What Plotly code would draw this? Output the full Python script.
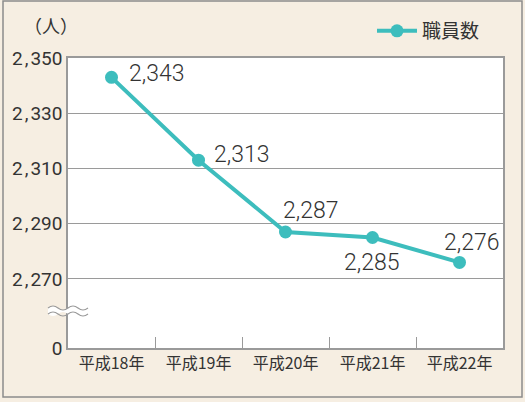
import plotly.graph_objects as go

categories = ["平成18年", "平成19年", "平成20年", "平成21年", "平成22年"]
staff = [2343, 2313, 2287, 2285, 2276]
label_dx = [15, 13, -5, -31, -18]
label_dy = [4, 6, 22, -25, 20]
tick_vals = [2245, 2270, 2290, 2310, 2330, 2350]
tick_text = ["0", "2\u200a,\u200a270", "2\u200a,\u200a290", "2\u200a,\u200a310", "2\u200a,\u200a330", "2\u200a,\u200a350"]

FONT = "Noto Sans CJK JP"
NUMFONT = "Roboto"
TEAL = "#3dbdbd"
GRAY = "#9a9a9a"
BEIGE = "#f6eee2"

fig = go.Figure()
fig.add_trace(go.Scatter(
    x=categories, y=staff, mode="lines+markers",
    name="職員数",
    line=dict(color=TEAL, width=4),
    marker=dict(color=TEAL, size=13),
    cliponaxis=False,
))

annotations = []
for c, v, dx, dy in zip(categories, staff, label_dx, label_dy):
    annotations.append(dict(x=c, y=v, xref="x", yref="y", text=f"{v:,}", showarrow=False,
                            xanchor="left", yanchor="middle", xshift=dx, yshift=dy,
                            font=dict(size=23, family=NUMFONT, color="#333333", weight=300)))
annotations.append(dict(text="（人）", xref="paper", yref="paper",
                        x=(51 - 68) / 435, y=(348 - 25) / 290, xanchor="center", yanchor="middle",
                        showarrow=False, font=dict(size=18, family=FONT, color="#333333")))

shapes = []
yb = (348 - 311) / 290.0
h = 3 / 290.0
amp = 4 / 290.0
x0, x1 = (48 - 68) / 435, (88 - 68) / 435
q = (x1 - x0) / 4
band = (f"M {x0} {yb+h} Q {x0+q/2} {yb+h+amp} {x0+q} {yb+h} T {x0+2*q} {yb+h} T {x0+3*q} {yb+h} T {x1} {yb+h} "
        f"L {x1} {yb-h} Q {x1-q/2} {yb-h+amp} {x1-q} {yb-h} T {x1-2*q} {yb-h} T {x1-3*q} {yb-h} T {x0} {yb-h} Z")
shapes.append(dict(type="path", xref="paper", yref="paper", path=band,
                   fillcolor="white", line=dict(width=0), layer="above"))
for yy in (yb + h, yb - h):
    p = f"M {x0} {yy} Q {x0+q/2} {yy+amp} {x0+q} {yy} T {x0+2*q} {yy} T {x0+3*q} {yy} T {x1} {yy}"
    shapes.append(dict(type="path", xref="paper", yref="paper", path=p,
                       line=dict(color=GRAY, width=1.2), layer="above"))
# outer frame
shapes.append(dict(type="rect", xref="paper", yref="paper",
                   x0=(3 - 68) / 435, x1=(522 - 68) / 435,
                   y0=(348 - 397) / 290, y1=(348 - 1) / 290,
                   line=dict(color="#8c8c8c", width=1.5), layer="below"))

fig.update_layout(
    width=525, height=402,
    margin=dict(l=68, r=22, t=58, b=54, autoexpand=False),
    paper_bgcolor=BEIGE, plot_bgcolor="white",
    font=dict(family=FONT, color="#333333"),
    showlegend=True,
    legend=dict(orientation="h", x=(372 - 68) / 435, y=(348 - 31) / 290, xanchor="left", yanchor="middle",
                bgcolor="rgba(0,0,0,0)", itemwidth=40,
                font=dict(size=19, family=FONT, color="#333333")),
    shapes=shapes,
    annotations=annotations,
    xaxis=dict(type="category", range=[-0.5, 4.5], showgrid=False, showline=True, linecolor=GRAY,
               linewidth=1.5, mirror=True, ticks="inside", tickson="boundaries", ticklen=11,
               tickcolor=GRAY, tickwidth=1.2, tickfont=dict(size=16, family=FONT, color="#333333")),
    yaxis=dict(range=[2245, 2350], tickvals=tick_vals, ticktext=tick_text,
               showgrid=True, gridcolor=GRAY, gridwidth=1.2, showline=True, linecolor=GRAY,
               linewidth=1.5, mirror=True, ticks="", ticklen=0, zeroline=False, ticklabelstandoff=0,
               tickfont=dict(size=19, family=NUMFONT, color="#333333")),
)

fig.write_html("out.html", config={"displayModeBar": False},
               post_script="document.body.style.margin='0';")
